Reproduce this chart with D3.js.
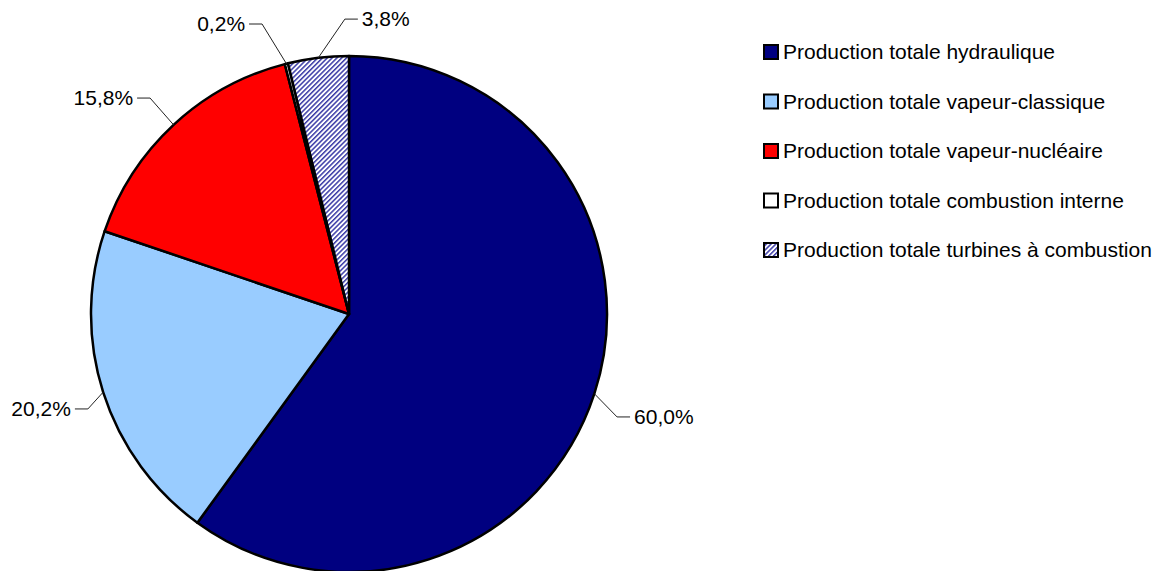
<!DOCTYPE html>
<html>
<head>
<meta charset="utf-8">
<script src="https://cdn.jsdelivr.net/npm/d3@7"></script>
<style>
  html, body { margin: 0; padding: 0; background: #fff; }
  svg { display: block; }
  text { font-family: "Liberation Sans", Arial, Helvetica, sans-serif; fill: #000; }
</style>
</head>
<body>
<svg id="chart" width="1161" height="571"></svg>
<script>
// ---- data ----
const categories = [
  "Production totale hydraulique",
  "Production totale vapeur-classique",
  "Production totale vapeur-nucléaire",
  "Production totale combustion interne",
  "Production totale turbines à combustion"
];
const shares = [60.0, 20.2, 15.8, 0.2, 3.8];

// ---- styles / layout ----
const fills = ["#000080", "#99CCFF", "#FF0000", "#FFFFFF", "url(#hatch)"];
// label elbow points, in units of the radius, relative to the centre, and side
const labelElbows = [
  { ex: 1.039, ey: 0.399, side: 1 },
  { ex: -1.012, ey: 0.368, side: -1 },
  { ex: -0.771, ey: -0.837, side: -1 },
  { ex: -0.337, ey: -1.124, side: -1 },
  { ex: -0.016, ey: -1.143, side: 1 }
];

const W = 1161, H = 571;
const cx = 349, cy = 314, R = 258;
const fontSize = 21;

const svg = d3.select("#chart");
const defs = svg.append("defs");
const pat = defs.append("pattern")
  .attr("id", "hatch")
  .attr("patternUnits", "userSpaceOnUse")
  .attr("width", 3.4).attr("height", 3.4)
  .attr("patternTransform", "rotate(45)");
pat.append("rect").attr("width", 3.4).attr("height", 3.4).attr("fill", "#fff");
pat.append("rect").attr("width", 1.5).attr("height", 3.4).attr("fill", "#3a3aa6");

const fr = d3.formatLocale({ decimal: ",", thousands: " ", grouping: [3], currency: ["", " €"] });
const fmt = fr.format(".1f");

const data = categories.map((c, i) => ({ name: c, value: shares[i], fill: fills[i], lab: labelElbows[i] }));

const pie = d3.pie().sort(null).value(d => d.value).startAngle(0).endAngle(2 * Math.PI);
const arcs = pie(data);
const arc = d3.arc().innerRadius(0).outerRadius(R);

const g = svg.append("g").attr("transform", `translate(${cx},${cy})`);

g.selectAll("path.slice")
  .data(arcs)
  .join("path")
  .attr("class", "slice")
  .attr("d", arc)
  .attr("fill", d => d.data.fill)
  .attr("stroke", "#000")
  .attr("stroke-width", 2.5)
  .attr("stroke-linejoin", "round");

// leader lines + labels
const lab = g.append("g");
arcs.forEach(a => {
  const mid = (a.startAngle + a.endAngle) / 2;
  const px = R * Math.sin(mid), py = -R * Math.cos(mid);
  const ex = a.data.lab.ex * R, ey = a.data.lab.ey * R;
  const hx = ex + a.data.lab.side * 13;
  lab.append("polyline")
    .attr("points", `${px},${py} ${ex},${ey} ${hx},${ey}`)
    .attr("fill", "none")
    .attr("stroke", "#222")
    .attr("stroke-width", 1);
  lab.append("text")
    .attr("x", hx + a.data.lab.side * 4)
    .attr("y", ey)
    .attr("dy", "0.35em")
    .attr("text-anchor", a.data.lab.side > 0 ? "start" : "end")
    .style("font-size", fontSize + "px")
    .text(fmt(a.data.value) + "%");
});

// legend
const legY = d3.scalePoint().domain(categories).range([52, 250]);
const leg = svg.append("g");
const items = leg.selectAll("g").data(data).join("g")
  .attr("transform", d => `translate(764,${legY(d.name)})`);
items.append("rect")
  .attr("x", 0).attr("y", -7).attr("width", 14).attr("height", 14)
  .attr("fill", d => d.fill)
  .attr("stroke", "#000").attr("stroke-width", 2);
items.append("text")
  .attr("x", 19).attr("y", 0).attr("dy", "0.35em")
  .style("font-size", fontSize + "px")
  .text(d => d.name);
</script>
</body>
</html>
